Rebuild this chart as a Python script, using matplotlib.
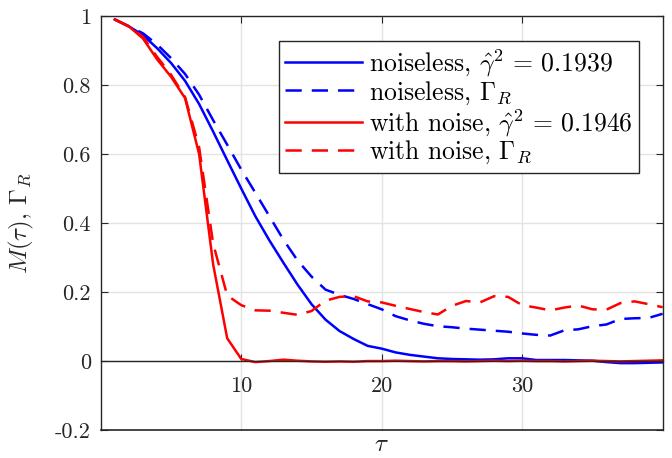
import matplotlib
matplotlib.use("Agg")
import matplotlib.pyplot as plt
import numpy as np

plt.rcParams["font.family"] = ["cmr10", "DejaVu Serif"]
plt.rcParams["mathtext.fontset"] = "cm"
plt.rcParams["axes.unicode_minus"] = False

tau = np.arange(1, 41)

noiseless_m = [0.99, 0.97, 0.945, 0.907, 0.864, 0.812, 0.745, 0.665, 0.582, 0.50,
               0.42, 0.35, 0.285, 0.222, 0.165, 0.12, 0.087, 0.064, 0.044, 0.036,
               0.025, 0.018, 0.013, 0.008, 0.006, 0.005, 0.004, 0.005, 0.008, 0.008,
               0.003, 0.003, 0.003, 0.002, 0.001, -0.003, -0.006, -0.006, -0.005, -0.004]
noiseless_gamma = [0.99, 0.97, 0.95, 0.918, 0.878, 0.832, 0.772, 0.698, 0.627, 0.555,
                   0.488, 0.42, 0.352, 0.292, 0.245, 0.207, 0.192, 0.18, 0.165, 0.15,
                   0.13, 0.118, 0.108, 0.101, 0.098, 0.094, 0.091, 0.088, 0.085, 0.08,
                   0.076, 0.074, 0.089, 0.092, 0.101, 0.106, 0.122, 0.124, 0.125, 0.137]
noise_m = [0.99, 0.97, 0.935, 0.875, 0.824, 0.762, 0.60, 0.28, 0.066, 0.006,
           -0.003, 0.0, 0.004, 0.001, -0.001, -0.002, -0.001, -0.002, 0.0, 0.0,
           0.001, 0.0, -0.001, 0.0, 0.0, -0.001, 0.0, 0.001, 0.0, 0.001,
           0.0, 0.0, -0.001, 0.0, 0.001, 0.0, -0.001, 0.0, 0.001, 0.002]
noise_gamma = [0.99, 0.97, 0.94, 0.882, 0.83, 0.765, 0.62, 0.34, 0.19, 0.162,
               0.147, 0.146, 0.14, 0.134, 0.145, 0.175, 0.186, 0.188, 0.173, 0.17,
               0.16, 0.151, 0.142, 0.135, 0.16, 0.174, 0.17, 0.188, 0.186, 0.162,
               0.155, 0.147, 0.155, 0.161, 0.15, 0.149, 0.168, 0.173, 0.165, 0.156]

labels = [r"noiseless, $\hat{\gamma}^2\,=\,0.1939$",
          r"noiseless, $\Gamma_R$",
          r"with noise, $\hat{\gamma}^2\,=\,0.1946$",
          r"with noise, $\Gamma_R$"]

yticks = [-0.2, 0, 0.2, 0.4, 0.6, 0.8, 1]
ytick_labels = ["-0.2", "0", "0.2", "0.4", "0.6", "0.8", "1"]
xticks = [10, 20, 30]

dark = "#262626"
fig = plt.figure(figsize=(6.72, 4.58), dpi=100)
ax = fig.add_axes([0.150, 0.061, 0.836, 0.904])

dash = (0, (6.5, 4))
lw = 1.8
ax.plot(tau, noiseless_m, color="#0000ff", lw=lw, label=labels[0])
ax.plot(tau, noiseless_gamma, color="#0000ff", lw=lw, ls=dash, label=labels[1])
ax.plot(tau, noise_m, color="#ff0000", lw=lw, label=labels[2])
ax.plot(tau, noise_gamma, color="#ff0000", lw=lw, ls=dash, label=labels[3])

ax.set_xlim(0, 40)
ax.set_ylim(-0.2, 1)
ax.set_xticks(xticks)
ax.set_xticklabels([str(t) for t in xticks])
ax.set_yticks(yticks)
ax.set_yticklabels(ytick_labels)
ax.grid(True, color="#e3e3e3", lw=1)
ax.set_axisbelow(True)

for side in ("left", "right", "top", "bottom"):
    ax.spines[side].set_color(dark)
    ax.spines[side].set_linewidth(1.0)
ax.spines["bottom"].set_position(("data", 0))
ax.axhline(-0.2, color=dark, lw=1.2, clip_on=False, zorder=5)

ax.tick_params(direction="in", top=True, right=True, length=5, width=0.8,
               colors=dark, labelsize=16)
ax.tick_params(axis="x", pad=11)
ax.tick_params(axis="y", pad=7)

ax.set_xlabel(r"$\tau$", fontsize=18, color=dark)
ax.xaxis.set_label_coords(0.5, -0.01)
ax.set_ylabel(r"$M(\tau)$, $\Gamma_R$", fontsize=18, color=dark)
ax.yaxis.set_label_coords(-0.115, 0.5)

leg = ax.legend(loc="upper right", bbox_to_anchor=(0.958, 0.94), fontsize=18.5,
                fancybox=False, framealpha=1, edgecolor=dark, handlelength=3.0,
                handletextpad=0.25, labelspacing=0.02, borderpad=0.25,
                borderaxespad=0)
leg.get_frame().set_linewidth(1.0)

fig.savefig("out.png", dpi=100)
